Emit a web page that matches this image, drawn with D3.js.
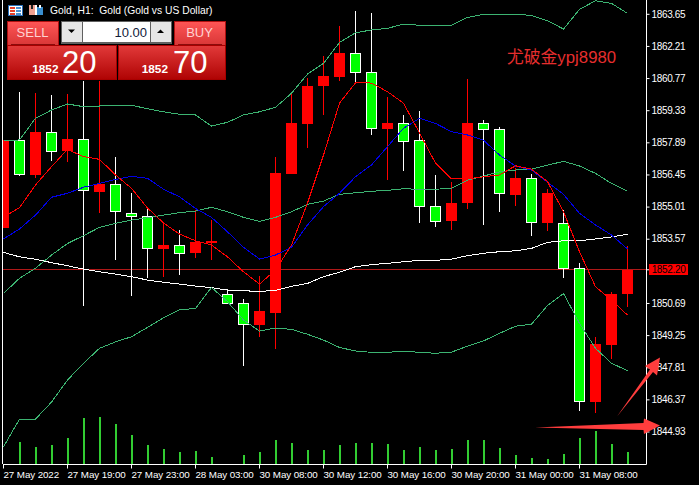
<!DOCTYPE html>
<html><head><meta charset="utf-8">
<script src="https://cdn.jsdelivr.net/npm/d3@7"></script>
<style>
html,body{margin:0;padding:0;background:#000;overflow:hidden}
svg{display:block}
text{font-family:"Liberation Sans",sans-serif}
</style></head><body>
<script>
const opens=[1854.08,1857.98,1856.45,1858.34,1857.52,1858.05,1855.68,1856.03,1854.73,1854.60,1853.13,1853.30,1852.95,1853.40,1851.10,1850.70,1849.72,1850.26,1856.50,1858.73,1860.44,1860.84,1861.90,1861.05,1858.51,1858.76,1858.00,1855.04,1854.38,1855.19,1858.76,1858.49,1855.55,1856.30,1854.30,1854.28,1852.26,1846.29,1848.83,1851.13];
const highs=[1858.02,1860.17,1860.12,1860.03,1860.08,1860.66,1860.66,1857.24,1855.63,1854.95,1854.25,1853.98,1854.88,1854.43,1851.32,1850.88,1851.92,1857.24,1860.11,1860.78,1861.78,1863.12,1863.80,1863.71,1859.94,1859.14,1859.31,1856.45,1856.12,1860.74,1858.91,1858.58,1856.75,1856.48,1855.82,1854.88,1852.52,1849.20,1851.22,1853.26];
const lows=[1854.07,1856.42,1856.33,1857.07,1857.03,1850.59,1854.76,1852.64,1851.04,1851.82,1851.89,1851.96,1852.73,1852.64,1850.66,1847.89,1849.20,1848.65,1856.49,1857.67,1859.14,1860.66,1860.60,1858.24,1856.22,1856.63,1854.31,1854.13,1853.98,1854.94,1854.20,1854.79,1855.07,1853.73,1853.94,1851.84,1845.87,1845.79,1848.21,1850.54];
const closes=[1857.98,1856.48,1858.37,1857.49,1858.05,1855.74,1856.04,1854.80,1854.58,1853.16,1853.31,1852.92,1853.44,1853.49,1850.68,1849.74,1850.35,1856.54,1858.78,1860.44,1860.88,1861.91,1861.05,1858.54,1858.78,1857.96,1855.04,1854.35,1855.19,1858.78,1858.49,1855.61,1856.31,1854.33,1855.64,1852.25,1846.30,1848.87,1851.11,1852.20];
const fastMA=[1854.56,1854.98,1856.00,1856.82,1857.60,1857.27,1857.15,1856.45,1855.85,1854.97,1854.30,1853.80,1853.50,1853.31,1852.78,1852.11,1851.56,1852.19,1853.31,1855.19,1857.34,1859.67,1860.58,1860.57,1860.18,1859.67,1858.33,1856.98,1856.27,1856.27,1856.37,1856.45,1856.86,1856.71,1856.15,1854.80,1853.01,1851.44,1850.84,1850.17];
const midMA=[1853.58,1854.03,1854.65,1855.45,1855.63,1855.90,1856.07,1856.25,1856.39,1856.30,1855.81,1855.47,1854.95,1854.55,1853.90,1853.21,1852.68,1852.86,1853.21,1854.21,1855.03,1855.63,1856.37,1856.90,1857.72,1858.54,1858.99,1858.76,1858.39,1858.24,1858.01,1857.34,1856.85,1856.67,1856.12,1855.58,1854.73,1854.21,1853.76,1853.13];
const slowMA=[1852.98,1852.78,1852.67,1852.52,1852.38,1852.23,1852.11,1852.01,1851.89,1851.74,1851.64,1851.56,1851.47,1851.40,1851.29,1851.26,1851.23,1851.28,1851.46,1851.59,1851.89,1852.09,1852.34,1852.43,1852.49,1852.56,1852.62,1852.62,1852.68,1852.83,1852.94,1853.01,1853.05,1853.16,1853.43,1853.50,1853.50,1853.58,1853.67,1853.79];
const upperBand=[1857.97,1858.02,1858.99,1859.36,1859.63,1859.51,1859.54,1859.57,1859.57,1859.42,1859.28,1859.17,1859.14,1858.64,1858.81,1859.14,1859.28,1859.48,1860.11,1860.97,1861.45,1862.39,1862.82,1862.95,1863.02,1863.21,1863.16,1863.16,1863.16,1863.51,1863.65,1863.65,1863.65,1863.60,1863.36,1862.99,1863.87,1864.26,1864.14,1863.69];
const middleBand=[1851.14,1851.82,1852.27,1852.86,1853.38,1853.73,1854.10,1854.28,1854.43,1854.53,1854.65,1854.76,1854.83,1855.00,1854.80,1854.55,1854.37,1854.55,1854.80,1855.13,1855.28,1855.58,1855.65,1855.72,1855.76,1855.83,1855.81,1855.81,1855.85,1856.22,1856.40,1856.59,1856.67,1856.71,1856.89,1857.06,1856.85,1856.52,1856.07,1855.72];
const lowerBand=[1844.26,1845.51,1845.51,1846.27,1847.26,1848.01,1848.68,1848.97,1849.20,1849.62,1850.05,1850.40,1850.47,1851.41,1850.77,1849.95,1849.45,1849.59,1849.53,1849.31,1849.05,1848.72,1848.56,1848.50,1848.50,1848.55,1848.50,1848.46,1848.51,1848.78,1849.01,1849.35,1849.67,1849.76,1850.60,1851.14,1849.80,1848.68,1848.01,1847.68];
const volumes=[0,22,17,19,26,46,47,40,29,19,15,12,13,7,0,9,12,24,21,14,14,19,21,21,20,14,17,14,15,24,24,16,9,6,5,10,26,33,20,12];
const priceTicks=[1863.65,1862.21,1860.77,1859.33,1857.89,1856.45,1855.01,1853.57,1850.69,1849.25,1847.81,1846.37,1844.93];
const timeTickIndex=[0,4,8,12,16,20,24,28,32,36];
const timeTickLabels=["27 May 2022","27 May 19:00","27 May 23:00","28 May 03:00","30 May 08:00","30 May 12:00","30 May 16:00","30 May 20:00","31 May 00:00","31 May 08:00"];
const lastPrice=1852.20;
const symbolTitle="Gold, H1:  Gold (Gold vs US Dollar)";
const watermark="尤破金ypj8980";

const W=699,H=485,L=3,R=646.5,B=464;
const svg=d3.select("body").append("svg").attr("width",W).attr("height",H).style("background","#000");
const defs=svg.append("defs");
defs.append("clipPath").attr("id","plot").append("rect").attr("x",L).attr("y",0).attr("width",R-L).attr("height",B);
function grad(id,a,b){const g=defs.append("linearGradient").attr("id",id).attr("x1",0).attr("x2",0).attr("y1",0).attr("y2",1);
 g.append("stop").attr("offset",0).attr("stop-color",a);g.append("stop").attr("offset",1).attr("stop-color",b);}
grad("btn","#ff5656","#d83636");grad("quote","#e23a3a","#b00404");

const x=d3.scaleLinear().domain([0,39]).range([3.5,627.5]);
const y=d3.scaleLinear().domain([1844.93,1863.65]).range([432,14.3]);
const v=d3.scaleLinear().domain([0,47]).range([B,B-47]);
const idx=d3.range(opens.length);
const plot=svg.append("g").attr("clip-path","url(#plot)");

// last price line
plot.append("line").attr("x1",L).attr("x2",R).attr("y1",y(lastPrice)).attr("y2",y(lastPrice))
 .attr("stroke","#b01818").attr("shape-rendering","crispEdges");

// volumes
plot.append("g").selectAll("rect").data(idx.filter(i=>volumes[i]>0)).join("rect")
 .attr("x",i=>x(i)-1).attr("width",2).attr("y",i=>v(volumes[i])).attr("height",i=>B-v(volumes[i]))
 .attr("fill","#32cd32").attr("shape-rendering","crispEdges");

// candles
const isUp=i=>closes[i]>=opens[i];
plot.append("g").selectAll("line").data(idx).join("line")
 .attr("x1",i=>x(i)).attr("x2",i=>x(i)).attr("y1",i=>y(highs[i])).attr("y2",i=>y(lows[i]))
 .attr("stroke",i=>isUp(i)?"#ff0000":"#ffffff").attr("shape-rendering","crispEdges");
plot.append("g").selectAll("rect").data(idx).join("rect")
 .attr("x",i=>isUp(i)?x(i)-5.5:x(i)-5)
 .attr("width",i=>isUp(i)?11:10)
 .attr("y",i=>y(Math.max(opens[i],closes[i])))
 .attr("height",i=>Math.abs(y(opens[i])-y(closes[i])))
 .attr("fill",i=>isUp(i)?"#ff0000":"#00ff00")
 .attr("stroke",i=>isUp(i)?"none":"#ffffff")
 .attr("shape-rendering","crispEdges");

// indicator lines
const line=d3.line().x((d,i)=>x(i)).y(d=>y(d));
[[slowMA,"#ffffff",1],[upperBand,"#3cb371",1],[middleBand,"#3cb371",1],[lowerBand,"#3cb371",1],[midMA,"#0000e6",1],[fastMA,"#ff0000",1]]
.forEach(([s,c,w])=>plot.append("path").attr("d",line(s)).attr("fill","none").attr("stroke",c).attr("stroke-width",w).attr("shape-rendering","crispEdges"));

// frame
svg.append("line").attr("x1",2.5).attr("x2",2.5).attr("y1",0).attr("y2",B).attr("stroke","#fff").attr("shape-rendering","crispEdges");

// axes
const axisFont=g=>g.selectAll("text").attr("fill","#fff").style("font-size","10px").style("letter-spacing","-0.35px");
const gx=svg.append("g").attr("transform",`translate(0,${B+.5})`)
 .call(d3.axisBottom(x).tickValues(timeTickIndex).tickFormat((d,i)=>timeTickLabels[i]).tickSize(4).tickSizeOuter(0).offset(0));
gx.select(".domain").attr("d",`M${L},0H${R}`).attr("stroke","#fff");
gx.selectAll("line").attr("stroke","#fff");
gx.call(axisFont);
gx.selectAll("text").attr("text-anchor","start").attr("x",0).attr("y",7).attr("dy","0.71em").style("font-size","9.8px").style("letter-spacing","-0.1px");

const gy=svg.append("g").attr("transform",`translate(${R},0)`)
 .call(d3.axisRight(y).tickValues(priceTicks).tickFormat(d3.format(".2f")).tickSize(3).tickPadding(2).tickSizeOuter(0).offset(0));
gy.select(".domain").attr("d",`M0,0V${B+.5}`).attr("stroke","#fff");
gy.selectAll("line").attr("stroke","#fff");
gy.call(axisFont);

// last price label
svg.append("line").attr("x1",R).attr("x2",R+3).attr("y1",y(lastPrice)).attr("y2",y(lastPrice)).attr("stroke","#fff");
svg.append("rect").attr("x",649).attr("y",264).attr("width",39).attr("height",11).attr("fill","#ff0000");
svg.append("text").attr("x",668.5).attr("y",273).attr("text-anchor","middle").attr("fill","#000").style("font-size","10px").style("letter-spacing","-0.35px").text(d3.format(".2f")(lastPrice));

// header
const ic=svg.append("g").attr("shape-rendering","crispEdges");
ic.append("rect").attr("x",8.5).attr("y",5.5).attr("width",14).attr("height",10).attr("fill","#fff").attr("stroke","#2a6fb8");
[7,10,13].forEach(yy=>{ic.append("rect").attr("x",10).attr("y",yy).attr("width",5).attr("height",2).attr("fill","#e8402a");ic.append("rect").attr("x",16).attr("y",yy).attr("width",5).attr("height",2).attr("fill","#4a90d0");});
ic.append("rect").attr("x",29).attr("y",5).attr("width",6).attr("height",10).attr("fill","#f0a090");
ic.append("rect").attr("x",35).attr("y",5).attr("width",2).attr("height",10).attr("fill","#fff");
ic.append("rect").attr("x",37).attr("y",7).attr("width",6).attr("height",8).attr("fill","#3a8fd0");
ic.append("rect").attr("x",31).attr("y",5).attr("width",2).attr("height",4).attr("fill","#222");
ic.append("rect").attr("x",39).attr("y",5).attr("width",2).attr("height",3).attr("fill","#fff");
svg.append("text").attr("x",50).attr("y",14).attr("fill","#fff").style("font-size","10.3px").style("white-space","pre").attr("xml:space","preserve").text(symbolTitle);

// trade panel
const panel=svg.append("g");
const box=(x0,y0,w,h,f,s)=>panel.append("rect").attr("x",x0).attr("y",y0).attr("width",w).attr("height",h).attr("fill",f).attr("stroke",s||"none").attr("shape-rendering","crispEdges");
box(7.5,21.5,51,24,"url(#btn)","#b01010");
box(174.5,21.5,51,24,"url(#btn)","#b01010");
box(7.5,45.5,108.5,33.5,"url(#quote)","#a80000");
box(118.5,45.5,107,33.5,"url(#quote)","#a80000");
box(11,44,44,1,"#8a0c0c");box(178,44,44,1,"#8a0c0c");
box(61,21,111,23,"#606060");
box(62,22,20,20,"#e6e6e6");box(151,22,20,20,"#e6e6e6");box(83,22,67,20,"#ffffff");
panel.append("path").attr("d","M68,29.5h7l-3.5,3.5z").attr("fill","#000");
panel.append("path").attr("d","M157,33h7l-3.5,-3.5z").attr("fill","#000");
const t=(xx,yy,s,size,anchor,fill,weight)=>panel.append("text").attr("x",xx).attr("y",yy).attr("text-anchor",anchor).attr("fill",fill).attr("font-weight",weight||"normal").style("font-size",size+"px").text(s);
t(32.5,37,"SELL",13,"middle","#ffd2d2");
t(199.5,37,"BUY",13,"middle","#ffd2d2");
t(147,37,"10.00",13,"end","#10203a");
t(58.5,73,"1852",11.8,"end","#fff","bold");
t(62,73,"20",31,"start","#fff");
t(168,73,"1852",11.8,"end","#fff","bold");
t(173,73,"70",31,"start","#fff");

// watermark
svg.append("text").attr("x",507).attr("y",63).attr("fill","#e62e2e")
 .style("font-family",'"Liberation Sans","Noto Sans CJK SC",sans-serif').style("font-size","16.8px").text(watermark);

// arrows
const ar=svg.append("g").attr("fill","#ff3d3d");
ar.append("path").attr("d","M617,416.5L650,369.5L645,366L660,357.5L657,375.5L653,372Z");
ar.append("path").attr("d","M535,427.5L643.5,423L644,418.5L660,425.5L644,434L643.5,430Z");
</script>
</body></html>
